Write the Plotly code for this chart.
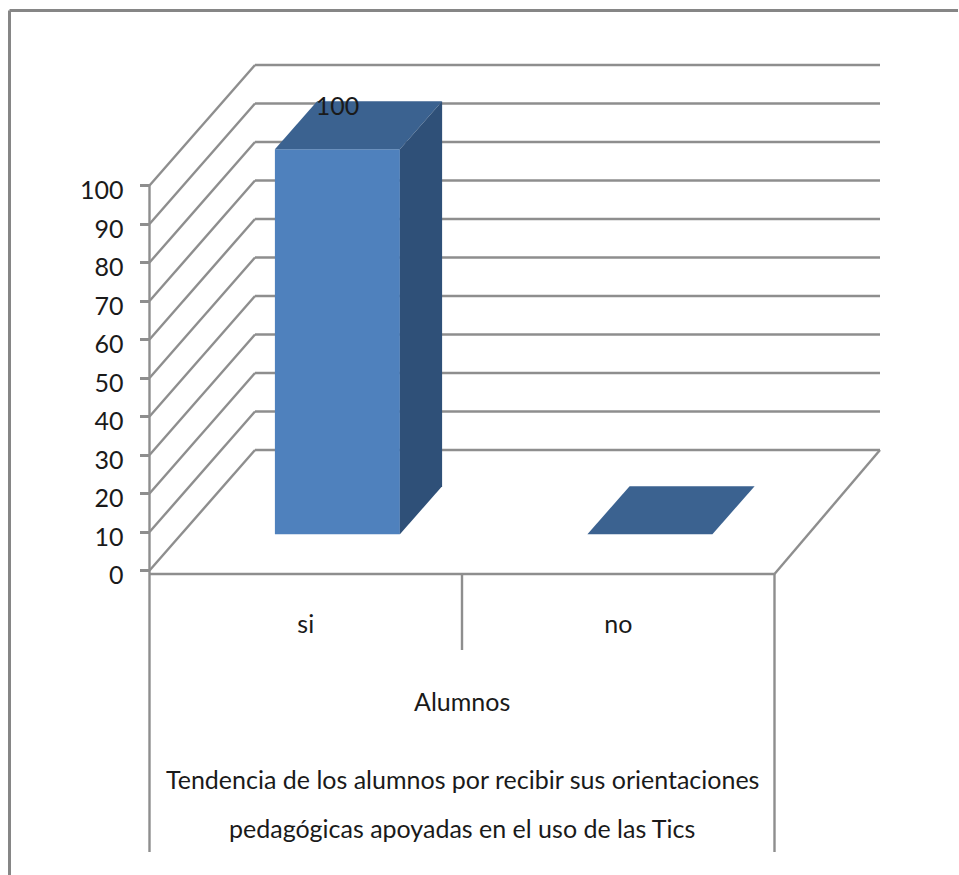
import plotly.graph_objects as go

# --- data ---
categories = ["si", "no"]
values = [100, 0]
tick_values = [0, 10, 20, 30, 40, 50, 60, 70, 80, 90, 100]
axis_title = "Alumnos"
title_lines = ["Tendencia de los alumnos por recibir sus orientaciones",
               "pedagógicas apoyadas en el uso de las Tics"]

# --- oblique projection of the 3D box, in axis units ---
W, H = 959, 875
PX_X0, PX_PER_CAT = 149.5, 312.5
PX_Y0, PX_PER_VAL = 570.5, 3.85
DEPTH_X = 105.5 / PX_PER_CAT
DEPTH_Y = 120.5 / PX_PER_VAL
FLOOR_Y = -3.5 / PX_PER_VAL
BAR_W = 0.4
FRONT_GAP = 0.3
BAR_DEPTH = 0.4

def val_at_px(p):
    return (PX_Y0 - p) / PX_PER_VAL

GRID = "#8e8e8e"
FRONT = "#4f81bd"
TOP = "#3b6290"
SIDE = "#2f5078"
TEXT = "#1a1a1a"
FONT = "Lato"
FS = 25

fig = go.Figure()
shapes = []

def line(xs, ys, width=2.4, color=GRID):
    for a, b, c, d in zip(xs[:-1], ys[:-1], xs[1:], ys[1:]):
        shapes.append(dict(type="line", xref="x", yref="y", x0=a, y0=b, x1=c, y1=d,
                           layer="below", line=dict(color=color, width=width)))

def poly(xs, ys, color):
    fig.add_trace(go.Scatter(x=xs, y=ys, mode="lines", fill="toself", fillcolor=color,
                             line=dict(width=0, color=color), hoverinfo="skip", showlegend=False))

n = len(categories)
# walls: back gridlines and left-wall diagonals
for t in tick_values:
    line([0, DEPTH_X, n + DEPTH_X], [t, t + DEPTH_Y, t + DEPTH_Y])
# floor: front edge and right edge
line([0, n, n + DEPTH_X], [FLOOR_Y, FLOOR_Y, DEPTH_Y])
# value axis and category separators
line([0, 0], [tick_values[-1], val_at_px(852)])
line([n, n], [FLOOR_Y, val_at_px(852)])
for i in range(1, n):
    line([i, i], [FLOOR_Y, val_at_px(650)])

# bars
fx = FRONT_GAP * DEPTH_X
fy = FRONT_GAP * DEPTH_Y
bx = BAR_DEPTH * DEPTH_X
by = BAR_DEPTH * DEPTH_Y
centers = [i + 0.5 + fx for i in range(n)]
fig.add_trace(go.Bar(x=centers, y=values, base=[fy] * n, width=[BAR_W] * n,
                     marker=dict(color=FRONT, line=dict(width=0)),
                     hoverinfo="skip", showlegend=False))
for c, v in zip(centers, values):
    l, r = c - BAR_W / 2, c + BAR_W / 2
    top = fy + v
    poly([l, r, r + bx, l + bx, l], [top, top, top + by, top + by, top], TOP)
    if v > 0:
        poly([r, r + bx, r + bx, r, r], [fy, fy + by, top + by, top, fy], SIDE)

# data label
lab_x = [c for c, v in zip(centers, values) if v > 0]
lab_y = [v + fy + by * 0.84 for v in values if v > 0]
lab_t = [str(v) for v in values if v > 0]
fig.add_trace(go.Scatter(x=lab_x, y=lab_y, mode="text", text=lab_t, textposition="middle center",
                         textfont=dict(family=FONT, size=FS, color=TEXT),
                         hoverinfo="skip", showlegend=False))

fig.add_annotation(x=n / 2, y=val_at_px(701), text=axis_title, showarrow=False,
                   font=dict(family=FONT, size=FS, color=TEXT), xref="x", yref="y")
for txt, py in zip(title_lines, [779, 828]):
    fig.add_annotation(x=n / 2, y=val_at_px(py), text=txt, showarrow=False,
                       font=dict(family=FONT, size=FS, color=TEXT), xref="x", yref="y")

shapes += [
    dict(type="line", xref="paper", yref="paper", x0=9.5 / W, x1=958 / W,
         y0=1 - 10.5 / H, y1=1 - 10.5 / H, line=dict(color="#868686", width=3)),
    dict(type="line", xref="paper", yref="paper", x0=9.5 / W, x1=9.5 / W,
         y0=1 - 10.5 / H, y1=0, line=dict(color="#868686", width=3)),
]

fig.update_layout(
    width=W, height=H, autosize=False, margin=dict(l=0, r=0, t=0, b=0),
    paper_bgcolor="white", plot_bgcolor="white", showlegend=False, barmode="overlay",
    xaxis=dict(domain=[0, 1], range=[-PX_X0 / PX_PER_CAT, (W - PX_X0) / PX_PER_CAT],
               anchor="free", position=(H - 574) / H, showgrid=False, zeroline=False,
               showline=False, tickmode="array", tickvals=[i + 0.5 for i in range(n)],
               ticktext=categories, ticks="", ticklabelstandoff=33,
               tickfont=dict(family=FONT, size=FS, color=TEXT)),
    yaxis=dict(domain=[0, 1], range=[val_at_px(H), val_at_px(0)],
               anchor="free", position=PX_X0 / W, showgrid=False, zeroline=False,
               showline=False, tickmode="array", tickvals=tick_values,
               ticks="outside", ticklen=10, tickwidth=3, tickcolor=GRID,
               ticklabelstandoff=11, ticklabelshift=5,
               tickfont=dict(family=FONT, size=FS, color=TEXT)),
    shapes=shapes,
)

fig.write_html("out.html", post_script="document.body.style.margin='0';document.body.style.overflow='hidden';",
               config=dict(displayModeBar=False))
